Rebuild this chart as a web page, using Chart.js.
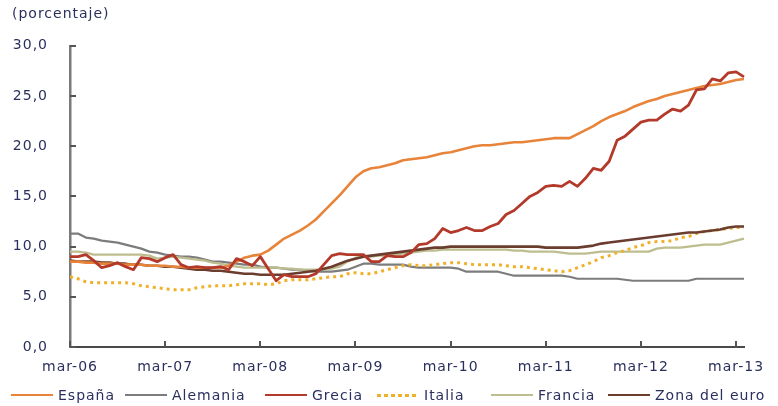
<!DOCTYPE html>
<html><head><meta charset="utf-8">
<script src="https://cdn.jsdelivr.net/npm/chart.js@4.4.0/dist/chart.umd.min.js"></script>
<style>
html,body{margin:0;padding:0;background:#fff;}
#wrap{position:relative;width:778px;height:406px;}
#legend{position:absolute;left:0;top:385px;width:778px;height:20px;font-family:"DejaVu Sans",sans-serif;font-size:14px;color:#2b2f5e;letter-spacing:1px;}
.item{position:absolute;top:0;height:20px;display:flex;align-items:center;white-space:nowrap;}
.sw{width:42px;height:0;margin-right:5px;}
</style></head>
<body><div id="wrap"><canvas id="c"></canvas><div id="legend"></div></div>
<script>
const categories = [
 'mar-06','abr-06','may-06','jun-06','jul-06','ago-06','sep-06','oct-06','nov-06','dic-06','ene-07','feb-07',
 'mar-07','abr-07','may-07','jun-07','jul-07','ago-07','sep-07','oct-07','nov-07','dic-07','ene-08','feb-08',
 'mar-08','abr-08','may-08','jun-08','jul-08','ago-08','sep-08','oct-08','nov-08','dic-08','ene-09','feb-09',
 'mar-09','abr-09','may-09','jun-09','jul-09','ago-09','sep-09','oct-09','nov-09','dic-09','ene-10','feb-10',
 'mar-10','abr-10','may-10','jun-10','jul-10','ago-10','sep-10','oct-10','nov-10','dic-10','ene-11','feb-11',
 'mar-11','abr-11','may-11','jun-11','jul-11','ago-11','sep-11','oct-11','nov-11','dic-11','ene-12','feb-12',
 'mar-12','abr-12','may-12','jun-12','jul-12','ago-12','sep-12','oct-12','nov-12','dic-12','ene-13','feb-13',
 'mar-13','abr-13'];

const espana = [8.5,8.5,8.4,8.4,8.3,8.3,8.3,8.2,8.2,8.2,8.1,8.1,
 8.1,8.0,8.0,7.9,7.9,7.9,7.9,7.9,8.1,8.5,8.9,9.1,
 9.2,9.6,10.2,10.8,11.2,11.6,12.1,12.7,13.5,14.3,15.1,16.0,
 16.9,17.5,17.8,17.9,18.1,18.3,18.6,18.7,18.8,18.9,19.1,19.3,
 19.4,19.6,19.8,20.0,20.1,20.1,20.2,20.3,20.4,20.4,20.5,20.6,
 20.7,20.8,20.8,20.8,21.2,21.6,22.0,22.5,22.9,23.2,23.5,23.9,
 24.2,24.5,24.7,25.0,25.2,25.4,25.6,25.8,26.0,26.1,26.2,26.4,
 26.6,26.7];

const alemania = [11.3,11.3,10.9,10.8,10.6,10.5,10.4,10.2,10.0,9.8,9.5,9.4,
 9.2,9.1,9.0,9.0,8.9,8.7,8.5,8.5,8.4,8.3,8.2,8.2,
 8.0,7.9,7.9,7.8,7.7,7.7,7.6,7.5,7.5,7.5,7.6,7.7,
 8.0,8.3,8.3,8.2,8.2,8.2,8.2,8.0,7.9,7.9,7.9,7.9,
 7.9,7.8,7.5,7.5,7.5,7.5,7.5,7.3,7.1,7.1,7.1,7.1,
 7.1,7.1,7.1,7.0,6.8,6.8,6.8,6.8,6.8,6.8,6.7,6.6,
 6.6,6.6,6.6,6.6,6.6,6.6,6.6,6.8,6.8,6.8,6.8,6.8,
 6.8,6.8];

const grecia = [9.0,9.0,9.2,8.6,7.9,8.1,8.4,8.0,7.7,8.9,8.8,8.5,
 8.9,9.2,8.2,7.9,8.0,7.9,7.9,8.0,7.7,8.8,8.5,8.1,
 9.0,7.8,6.6,7.2,7.0,7.0,7.0,7.3,8.2,9.1,9.3,9.2,
 9.2,9.2,8.5,8.5,9.1,9.0,9.0,9.4,10.2,10.3,10.8,11.8,
 11.4,11.6,11.9,11.6,11.6,12.0,12.3,13.2,13.6,14.3,15.0,15.4,
 16.0,16.1,16.0,16.5,16.0,16.8,17.8,17.6,18.5,20.6,21.0,21.7,
 22.4,22.6,22.6,23.2,23.7,23.5,24.1,25.6,25.7,26.7,26.5,27.3,
 27.4,26.9];

const italia = [7.0,6.8,6.5,6.4,6.4,6.4,6.4,6.4,6.3,6.1,6.0,5.9,
 5.8,5.7,5.7,5.7,5.9,6.0,6.1,6.1,6.1,6.2,6.3,6.3,
 6.3,6.2,6.3,6.6,6.7,6.7,6.7,6.8,6.9,7.0,7.0,7.3,
 7.4,7.3,7.3,7.5,7.7,7.9,8.1,8.2,8.1,8.1,8.2,8.3,
 8.4,8.4,8.3,8.2,8.2,8.2,8.2,8.1,8.0,8.0,7.9,7.8,
 7.7,7.6,7.5,7.6,7.9,8.2,8.5,8.9,9.1,9.4,9.6,9.9,
 10.1,10.4,10.5,10.5,10.6,10.9,11.0,11.3,11.5,11.6,11.7,11.8,
 11.9,11.9];

const francia = [9.5,9.5,9.4,9.2,9.2,9.2,9.2,9.2,9.2,9.2,9.1,8.8,
 8.9,9.0,8.9,8.8,8.7,8.6,8.4,8.3,8.1,8.0,7.9,7.9,
 7.9,7.9,7.9,7.8,7.8,7.7,7.7,7.7,7.7,7.8,8.0,8.5,
 8.9,9.0,9.0,9.1,9.1,9.2,9.3,9.4,9.5,9.6,9.6,9.7,
 9.7,9.7,9.7,9.7,9.7,9.7,9.7,9.7,9.6,9.6,9.5,9.5,
 9.5,9.5,9.4,9.3,9.3,9.3,9.4,9.5,9.5,9.5,9.5,9.5,
 9.5,9.5,9.8,9.9,9.9,9.9,10.0,10.1,10.2,10.2,10.2,10.4,
 10.6,10.8];

const zonaEuro = [8.6,8.5,8.5,8.5,8.4,8.4,8.3,8.3,8.2,8.2,8.1,8.1,
 8.0,8.0,7.9,7.8,7.7,7.7,7.6,7.6,7.5,7.4,7.3,7.3,
 7.2,7.2,7.2,7.2,7.3,7.4,7.5,7.6,7.8,8.0,8.3,8.6,
 8.8,9.0,9.1,9.2,9.3,9.4,9.5,9.6,9.7,9.8,9.9,9.9,
 10.0,10.0,10.0,10.0,10.0,10.0,10.0,10.0,10.0,10.0,10.0,10.0,
 9.9,9.9,9.9,9.9,9.9,10.0,10.1,10.3,10.4,10.5,10.6,10.7,
 10.8,10.9,11.0,11.1,11.2,11.3,11.4,11.4,11.5,11.6,11.7,11.9,
 12.0,12.0];

const yTicks = [0,5,10,15,20,25,30];
const seriesNames = ['España','Alemania','Grecia','Italia','Francia','Zona del euro'];
const seriesColors = ['#e8843a','#7c7c7c','#b33a2b','#f0b12a','#bdbd8f','#6b3d2f'];
const textColor = '#2b2f5e';
const fontFamily = '"DejaVu Sans", sans-serif';

function ds(i, data, width, order, dash) {
  return {label: seriesNames[i], data: data, borderColor: seriesColors[i], backgroundColor: seriesColors[i],
    borderWidth: width, pointRadius: 0, tension: 0, fill: false, order: order, borderDash: dash || [],
    borderCapStyle: 'butt', borderJoinStyle: 'round'};
}

const tickMarks = {
  id: 'tickMarks',
  beforeDraw(chart) { chart.ctx.letterSpacing = '1px'; },
  afterDraw(chart) {
    const ctx = chart.ctx, x = chart.scales.x, y = chart.scales.y;
    ctx.save();
    ctx.strokeStyle = '#555'; ctx.lineWidth = 2;
    yTicks.forEach(v => {
      const py = Math.round(y.getPixelForValue(v));
      ctx.beginPath(); ctx.moveTo(x.left, py); ctx.lineTo(x.left + 6, py); ctx.stroke();
    });
    categories.forEach((c, i) => {
      if (c.startsWith('mar')) {
        const px = Math.round(x.getPixelForValue(i));
        ctx.beginPath(); ctx.moveTo(px, y.bottom); ctx.lineTo(px, y.bottom - 6); ctx.stroke();
      }
    });
    ctx.restore();
  }
};

new Chart(document.getElementById('c'), {
  type: 'line',
  data: {
    labels: categories,
    datasets: [
      ds(0, espana, 2.6, 1),
      ds(1, alemania, 2.2, 5),
      ds(2, grecia, 2.8, 0),
      ds(3, italia, 3, 3, [3, 4]),
      ds(4, francia, 2.2, 4),
      ds(5, zonaEuro, 2.6, 2)
    ]
  },
  options: {
    responsive: true, maintainAspectRatio: false, animation: false,
    layout: {padding: {left: 12, right: 34, top: 0, bottom: 30}},
    plugins: {
      legend: {display: false},
      tooltip: {enabled: false},
      title: {display: true, text: '(porcentaje)', align: 'start', color: textColor,
        font: {family: fontFamily, size: 14, weight: 'normal'}, padding: {top: 6, bottom: 23}}
    },
    scales: {
      x: {
        type: 'category', offset: false,
        grid: {display: false, drawTicks: false},
        border: {display: true, color: '#4a4a4a', width: 2},
        ticks: {autoSkip: false, maxRotation: 0, minRotation: 0, padding: 12, color: textColor,
          font: {family: fontFamily, size: 14},
          callback: function(v, i) { const l = categories[i]; return l.startsWith('mar') ? l : ''; }},
        afterFit(s) { s.height = 29; }
      },
      y: {
        min: 0, max: 30,
        grid: {display: false, drawTicks: false},
        border: {display: true, color: '#7a7a7a', width: 2.5},
        ticks: {stepSize: 5, padding: 22, color: textColor, font: {family: fontFamily, size: 14},
          callback: v => v.toFixed(1).replace('.', ',')},
        afterFit(s) { s.width = 58; }
      }
    }
  },
  plugins: [tickMarks]
});

// legend (HTML)
const legendLeft = [11, 125, 265, 377, 491, 608];
const lg = document.getElementById('legend');
seriesNames.forEach((n, i) => {
  const it = document.createElement('div');
  it.className = 'item'; it.style.left = legendLeft[i] + 'px';
  const sw = document.createElement('span');
  sw.className = 'sw';
  if (n === 'Italia') {
    sw.style.height = '3px';
    sw.style.background = 'repeating-linear-gradient(90deg,' + seriesColors[i] + ' 0 4px, transparent 4px 7px)';
  } else {
    sw.style.borderTop = '2.5px solid ' + seriesColors[i];
  }
  const tx = document.createElement('span');
  tx.textContent = n;
  it.appendChild(sw); it.appendChild(tx);
  lg.appendChild(it);
});
</script>
</body></html>
